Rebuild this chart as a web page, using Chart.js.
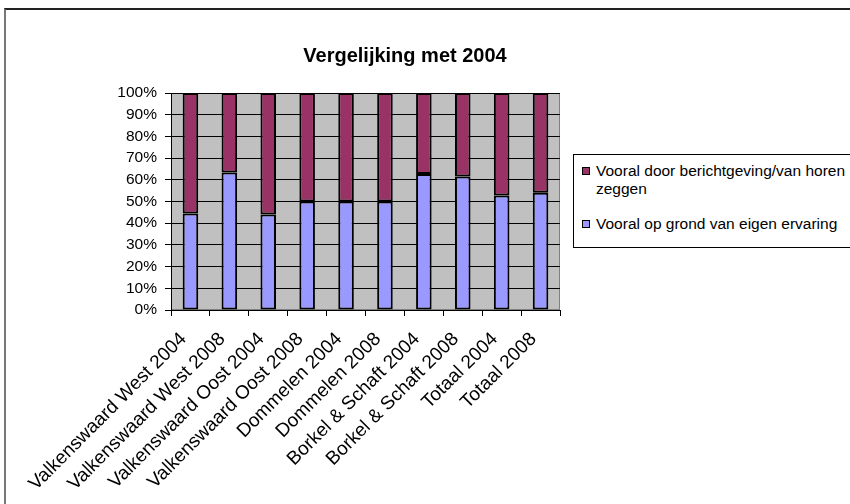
<!DOCTYPE html>
<html>
<head>
<meta charset="utf-8">
<script src="https://cdn.jsdelivr.net/npm/chart.js@4.4.1/dist/chart.umd.min.js"></script>
<style>
  body { margin: 0; width: 850px; height: 504px; overflow: hidden; background: #fff; position: relative; }
  #frame { position: absolute; left: 4px; top: 8px; width: 900px; height: 600px;
           border-top: 2px solid #222; border-left: 2px solid #777; }
  #myChart { position: absolute; left: 0; top: 0; }
  #legend { position: absolute; left: 573px; top: 154px; width: 300px; height: 92px;
            border: 1px solid #000; background: #fff;
            font-family: 'Liberation Sans', Arial, sans-serif; font-size: 15.5px; color: #000; }
  .item { position: absolute; left: 22px; line-height: 18px; width: 270px; }
  .box { position: absolute; left: -14px; top: 5px; width: 6px; height: 6px; border: 1px solid #000; }
</style>
</head>
<body>
<div id="frame"></div>
<canvas id="myChart" width="810" height="504"></canvas>
<div id="legend"></div>
<script>
var categories = ['Valkenswaard West 2004', 'Valkenswaard West 2008', 'Valkenswaard Oost 2004',
    'Valkenswaard Oost 2008', 'Dommelen 2004', 'Dommelen 2008', 'Borkel & Schaft 2004',
    'Borkel & Schaft 2008', 'Totaal 2004', 'Totaal 2008'];
var eigen_ervaring = [44.5, 63.4, 44, 50, 50, 50, 62.7, 61.5, 52.8, 54];
var berichtgeving = [55.5, 36.6, 56, 50, 50, 50, 37.3, 38.5, 47.2, 46];
var y_ticks = [0, 10, 20, 30, 40, 50, 60, 70, 80, 90, 100];

var font_family = "'Liberation Sans', Arial, sans-serif";

// grey plot area like the excel original
var plotBg = {
    id: 'plotBg',
    beforeDraw: function (chart) {
        var a = chart.chartArea;
        var ctx = chart.ctx;
        ctx.save();
        ctx.fillStyle = '#c0c0c0';
        ctx.fillRect(a.left, a.top, a.right - a.left, a.bottom - a.top);
        ctx.strokeStyle = '#808080';
        ctx.lineWidth = 1;
        ctx.strokeRect(a.left + 0.5, a.top + 0.5, a.right - a.left - 1, a.bottom - a.top - 1);
        ctx.restore();
    }
};

var ctx = document.getElementById('myChart');
var chart = new Chart(ctx, {
    type: 'bar',
    data: {
        labels: categories,
        datasets: [
            {
                label: 'Vooral op grond van eigen ervaring',
                data: eigen_ervaring,
                backgroundColor: '#9999ff',
                borderColor: '#000',
                borderWidth: 2,
                borderSkipped: false
            },
            {
                label: 'Vooral door berichtgeving/van horen zeggen',
                data: berichtgeving,
                backgroundColor: '#993366',
                borderColor: '#000',
                borderWidth: 2,
                borderSkipped: false
            }
        ]
    },
    options: {
        responsive: false,
        animation: false,
        barPercentage: 0.4,
        categoryPercentage: 1,
        layout: { padding: 0 },
        scales: {
            x: {
                stacked: true,
                afterFit: function (s) { s.height = 194; },
                grid: { display: true, drawOnChartArea: false, offset: true, color: '#000', tickLength: 6 },
                border: { display: true, color: '#000' },
                ticks: {
                    color: '#000',
                    minRotation: 45,
                    maxRotation: 45,
                    autoSkip: false,
                    padding: 12,
                    labelOffset: -7,
                    font: { family: font_family, size: 19 }
                }
            },
            y: {
                stacked: true,
                min: 0,
                max: 100,
                afterFit: function (s) { s.width = 171; },
                afterBuildTicks: function (s) { s.ticks = y_ticks.map(function (v) { return { value: v }; }); },
                grid: { color: '#000', tickLength: 6 },
                border: { display: true, color: '#000' },
                ticks: {
                    color: '#000',
                    padding: 8,
                    font: { family: font_family, size: 15.5 },
                    callback: function (v) { return v + '%'; }
                }
            },
            // empty room on the right where the legend sits
            spacer: {
                type: 'linear',
                position: 'right',
                afterFit: function (s) { s.width = 250; },
                grid: { display: false },
                border: { display: false },
                ticks: { display: false }
            }
        },
        plugins: {
            title: {
                display: true,
                text: 'Vergelijking met 2004',
                color: '#000',
                font: { family: font_family, size: 20, weight: 'bold' },
                padding: { top: 44, bottom: 25 }
            },
            legend: { display: false },
            tooltip: { enabled: false }
        }
    },
    plugins: [plotBg]
});

// legend box, reversed order like the original
var legend = document.getElementById('legend');
var tops = [7, 60];
chart.data.datasets.slice().reverse().forEach(function (ds, i) {
    var item = document.createElement('div');
    item.className = 'item';
    item.style.top = tops[i] + 'px';
    item.innerHTML = '<span class="box" style="background:' + ds.backgroundColor + '"></span>' + ds.label;
    legend.appendChild(item);
});
</script>
</body>
</html>
